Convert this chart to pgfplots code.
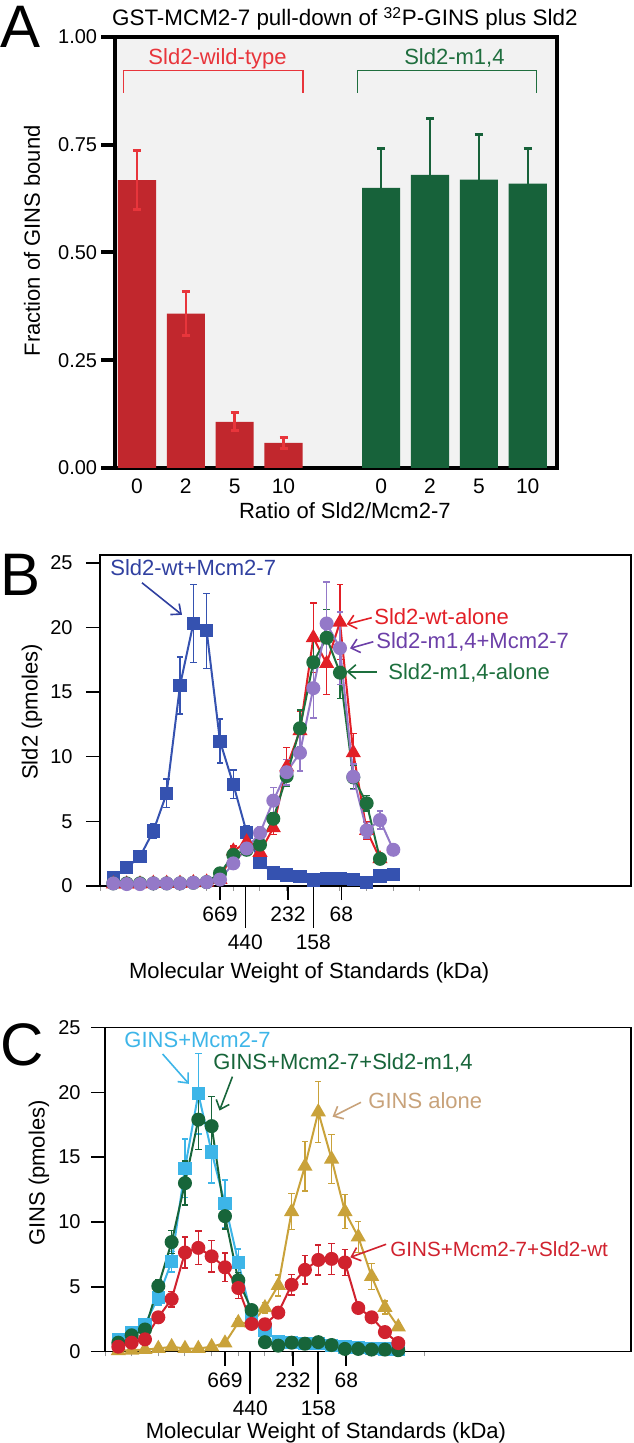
\documentclass[border=0pt]{standalone}
\usepackage{pgfplots}
\pgfplotsset{compat=1.18}
\usepackage{fontspec}
\setmainfont{Liberation Sans}
\usetikzlibrary{arrows.meta}
\newcommand{\fs}[1]{\fontsize{#1}{#1}\selectfont}
\definecolor{Ared}{HTML}{C1272D}
\definecolor{Aredb}{HTML}{E8353B}
\definecolor{Agreen}{HTML}{17623A}
\definecolor{Agreent}{HTML}{1F6E3E}
\definecolor{Bblue}{HTML}{3552B0}
\definecolor{Bbluet}{HTML}{3040A0}
\definecolor{Bred}{HTML}{E21F26}
\definecolor{Bpurple}{HTML}{9479C8}
\definecolor{Bpurplet}{HTML}{6C3FA8}
\definecolor{Bgreen}{HTML}{1D6F3D}
\definecolor{Ccyan}{HTML}{3DB5E8}
\definecolor{Cgreen}{HTML}{17653A}
\definecolor{Cred}{HTML}{D0222E}
\definecolor{Cgold}{HTML}{C9A23A}
\definecolor{Cgoldt}{HTML}{C8A27A}
\pgfplotsset{
  errs/.style={error bars/.cd, y dir=both, y explicit,
    error bar style={line width=0.7pt, solid},
    error mark options={line width=0.7pt, mark size=1.6pt, rotate=90}},
  ser/.style={color=#1, line width=1pt, mark options={fill=#1, draw=#1, solid}},
}
\begin{document}
\begin{tikzpicture}
\useasboundingbox (0,0) rectangle (316.5pt,721.5pt);
\node[anchor=base west, inner sep=0pt, font=\fs{30}] at (0pt,697.5pt) {A};
\node[anchor=base west, inner sep=0pt, font=\fs{30}] at (0pt,423.5pt) {B};
\node[anchor=base west, inner sep=0pt, font=\fs{30}] at (0pt,188.5pt) {C};

% ---------------- Panel A ----------------
\begin{axis}[
  at={(57.5pt,487.5pt)}, anchor=south west, scale only axis,
  width=221pt, height=215.5pt,
  xmin=-0.45, xmax=8.6, ymin=0, ymax=1,
  axis background/.style={fill=black!5},
  axis line style={line width=2pt},
  clip=false,
  xtick={0,1,2,3,5,6,7,8}, xticklabels={0,2,5,10,0,2,5,10},
  x tick style={draw=none},
  ytick={0,0.25,0.5,0.75,1}, yticklabels={0.00,0.25,0.50,0.75,1.00},
  y tick style={line width=2pt, black},
  ytick pos=left,
  tick align=outside, major tick length=7pt,
  xticklabel style={font=\fs{10.5}, anchor=base, yshift=-6pt},
  yticklabel style={font=\fs{10}, anchor=east, inner sep=0pt, xshift=-1.75pt},
  xlabel={Ratio of Sld2/Mcm2-7},
  ylabel={Fraction of GINS bound},
  title={GST-MCM2-7 pull-down of \textsuperscript{32}P-GINS plus Sld2},
  every axis x label/.style={at={(axis description cs:0.52,0)}, anchor=base, yshift=-25.5pt, font=\fs{11}},
  every axis y label/.style={at={(axis description cs:0,0.527)}, xshift=-41.5pt, rotate=90, anchor=center, font=\fs{11}},
  every axis title/.style={at={(axis description cs:0.52,1)}, anchor=base, yshift=5.5pt, font=\fs{11.2}},
]
\addplot[ybar, bar width=0.78, bar shift=0pt, fill=Ared, draw=none,
  error bars/.cd, y dir=both, y explicit,
  error bar style={line width=1.2pt, Aredb},
  error mark options={line width=1.5pt, mark size=2pt, rotate=90, Aredb}]
  coordinates {(0,0.668) +- (0,0.069) (1,0.358) +- (0,0.051) (2,0.107) +- (0,0.021) (3,0.058) +- (0,0.012)};
\addplot[ybar, bar width=0.78, bar shift=0pt, fill=Agreen, draw=none,
  error bars/.cd, y dir=plus, y explicit,
  error bar style={line width=1.2pt, Agreen},
  error mark options={line width=1.5pt, mark size=2pt, rotate=90, Agreen}]
  coordinates {(5,0.650) +- (0,0.091) (6,0.680) +- (0,0.131) (7,0.669) +- (0,0.104) (8,0.660) +- (0,0.081)};
\draw[Aredb, line width=0.6pt] (-0.27,0.871) -- (-0.27,0.922) -- (3.4,0.922) -- (3.4,0.871);
\draw[Agreent, line width=0.6pt] (4.51,0.871) -- (4.51,0.922) -- (8.18,0.922) -- (8.18,0.871);
\node[anchor=base, inner sep=0pt, text=Aredb, font=\fs{11}] at (1.65,0.935) {Sld2-wild-type};
\node[anchor=base, inner sep=0pt, text=Agreent, font=\fs{11}] at (6.5,0.935) {Sld2-m1,4};
\end{axis}

% ---------------- Panel B ----------------
\begin{axis}[
  at={(50pt,278.5pt)}, anchor=south west, scale only axis,
  width=265.5pt, height=165.5pt,
  xmin=0, xmax=39.83, ymin=0, ymax=25.6,
  axis line style={line width=0.8pt},
  clip=false,
  ytick={0,5,10,15,20,25}, yticklabels={0,5,10,15,20,25},
  ytick pos=left, xtick pos=bottom,
  tick align=outside, major tick length=7pt, minor tick length=2.5pt,
  major tick style={line width=0.8pt, black},
  minor tick style={line width=0.5pt, black!40},
  xtick={9,14.1,18.1}, xticklabels={669,232,68},
  extra x ticks={10.9,16}, extra x tick labels={440,158},
  extra x tick style={major tick length=21pt},
  minor xtick={0,2,...,24},
  xticklabel style={font=\fs{10.5}, anchor=base, yshift=-11pt},
  yticklabel style={font=\fs{10}, anchor=east, inner sep=0pt, xshift=-6.5pt},
  xlabel={Molecular Weight of Standards (kDa)},
  ylabel={Sld2 (pmoles)},
  every axis x label/.style={at={(axis description cs:0.394,0)}, anchor=base, yshift=-46.5pt, font=\fs{11}},
  every axis y label/.style={at={(axis description cs:0,0.526)}, xshift=-34pt, rotate=90, anchor=center, font=\fs{11}},
]
\addplot[ser=Bblue, mark=square*, mark size=2.8pt, errs] coordinates {
(1,0.67) +- (0,0.1) (2,1.42) +- (0,0.15) (3,2.27) +- (0,0.2) (4,4.25) +- (0,0.6)
(5,7.16) +- (0,1.1) (6,15.5) +- (0,2.2) (7,20.3) +- (0,3.0) (8,19.74) +- (0,2.9)
(9,11.2) +- (0,1.7) (10,7.86) +- (0,1.1) (11,4.15) +- (0,0.5) (12,1.80) +- (0,0.3)
(13,1.0) +- (0,0.1) (14,0.85) +- (0,0.1) (15,0.72) +- (0,0.1) (16,0.46) +- (0,0.1)
(17,0.56) +- (0,0.1) (18,0.56) +- (0,0.1) (19,0.5) +- (0,0.1) (20,0.25) +- (0,0.1)
(21,0.77) +- (0,0.1) (22,0.9) +- (0,0.1)};
\addplot[ser=Bred, mark=triangle*, mark size=3.4pt, errs] coordinates {
(1,0.15) +- (0,0) (2,0.15) +- (0,0) (3,0.15) +- (0,0) (4,0.2) +- (0,0)
(5,0.2) +- (0,0) (6,0.2) +- (0,0) (7,0.25) +- (0,0) (8,0.3) +- (0,0)
(9,0.5) +- (0,0.2) (10,2.7) +- (0,0.4) (11,3.4) +- (0,0.3) (12,2.6) +- (0,0.4)
(13,4.5) +- (0,0.5) (14,9.2) +- (0,1.5) (15,12.0) +- (0,1.5) (16,19.2) +- (0,2.7)
(17,17.2) +- (0,2.4) (18,20.4) +- (0,2.9) (19,10.3) +- (0,1.5) (20,4.3) +- (0,0.7)
(21,2.1) +- (0,0.3)};
\addplot[ser=Bgreen, mark=*, mark size=3pt, errs] coordinates {
(1,0.2) +- (0,0) (2,0.2) +- (0,0) (3,0.2) +- (0,0) (4,0.2) +- (0,0)
(5,0.2) +- (0,0) (6,0.2) +- (0,0) (7,0.25) +- (0,0) (8,0.3) +- (0,0)
(9,0.98) +- (0,0.2) (10,2.4) +- (0,0.3) (11,2.8) +- (0,0.3) (12,3.2) +- (0,0.3)
(13,5.2) +- (0,0.5) (14,8.5) +- (0,0.8) (15,12.2) +- (0,1.4) (16,17.3) +- (0,1.8)
(17,19.2) +- (0,2.2) (18,16.5) +- (0,2.0) (19,8.4) +- (0,0.9) (20,6.4) +- (0,0.6)
(21,2.1) +- (0,0.3)};
\addplot[ser=Bpurple, mark=*, mark size=3pt, errs] coordinates {
(1,0.2) +- (0,0) (2,0.15) +- (0,0) (3,0.15) +- (0,0) (4,0.2) +- (0,0)
(5,0.2) +- (0,0) (6,0.2) +- (0,0) (7,0.25) +- (0,0) (8,0.3) +- (0,0)
(9,0.5) +- (0,0.1) (10,1.75) +- (0,0.3) (11,2.9) +- (0,0.3) (12,4.1) +- (0,0.5)
(13,6.6) +- (0,1.0) (14,8.8) +- (0,1.0) (15,10.3) +- (0,1.4) (16,15.3) +- (0,2.3)
(17,20.3) +- (0,3.2) (18,18.4) +- (0,2.8) (19,8.45) +- (0,1.0) (20,4.3) +- (0,0.6)
(21,5.1) +- (0,0.7) (22,2.8) +- (0,0.3)};
\node[anchor=base west, inner sep=0pt, text=Bbluet, font=\fs{11}] at (0.75,24.05) {Sld2-wt+Mcm2-7};
\draw[Bbluet, line width=0.8pt, -{Straight Barb[length=4pt,width=7pt]}] (3.15,23.45) -- (6.15,20.97);
\node[anchor=base west, inner sep=0pt, text=Bred, font=\fs{11}] at (20.55,20.26) {Sld2-wt-alone};
\draw[Bred, line width=0.8pt, -{Straight Barb[length=4pt,width=7pt]}] (20.38,20.75) -- (18.5,20.24);
\node[anchor=base west, inner sep=0pt, text=Bpurplet, font=\fs{11}] at (20.7,18.33) {Sld2-m1,4+Mcm2-7};
\draw[Bpurplet, line width=0.8pt, -{Straight Barb[length=4pt,width=7pt]}] (20.5,18.89) -- (18.75,18.38);
\node[anchor=base west, inner sep=0pt, text=Bgreen, font=\fs{11}] at (21.6,16.0) {Sld2-m1,4-alone};
\draw[Bgreen, line width=0.8pt, -{Straight Barb[length=4pt,width=7pt]}] (20.75,16.57) -- (18.5,16.57);
\end{axis}

% ---------------- Panel C ----------------
\begin{axis}[
  at={(52.5pt,45.75pt)}, anchor=south west, scale only axis,
  width=263pt, height=161.9pt,
  xmin=0, xmax=39.46, ymin=0, ymax=25,
  axis line style={line width=0.8pt},
  clip=false,
  ytick={0,5,10,15,20,25}, yticklabels={0,5,10,15,20,25},
  ytick pos=left, xtick pos=bottom,
  tick align=outside, major tick length=7pt, minor tick length=2.5pt,
  major tick style={line width=0.8pt, black},
  minor tick style={line width=0.5pt, black!40},
  xtick={9,14.1,18.1}, xticklabels={669,232,68},
  extra x ticks={10.9,16}, extra x tick labels={440,158},
  extra x tick style={major tick length=21pt},
  minor xtick={0,2,...,24},
  xticklabel style={font=\fs{10.5}, anchor=base, yshift=-10.75pt},
  yticklabel style={font=\fs{10}, anchor=east, inner sep=0pt, xshift=-5pt},
  xlabel={Molecular Weight of Standards (kDa)},
  ylabel={GINS (pmoles)},
  every axis x label/.style={at={(axis description cs:0.42,0)}, anchor=base, yshift=-43.25pt, font=\fs{11}},
  every axis y label/.style={at={(axis description cs:0,0.551)}, xshift=-33pt, rotate=90, anchor=center, font=\fs{11}},
]
\addplot[ser=Cgold, mark=triangle*, mark size=3.4pt, errs] coordinates {
(1,0.06) +- (0,0) (2,0.1) +- (0,0) (3,0.15) +- (0,0) (4,0.23) +- (0,0)
(5,0.37) +- (0,0) (6,0.23) +- (0,0) (7,0.23) +- (0,0) (8,0.37) +- (0,0)
(9,0.65) +- (0,0.1) (10,2.23) +- (0,0.3) (11,2.2) +- (0,0.3) (12,3.38) +- (0,0.4)
(13,5.1) +- (0,0.8) (14,10.8) +- (0,1.4) (15,14.3) +- (0,1.9) (16,18.5) +- (0,2.35)
(17,14.85) +- (0,1.9) (18,10.8) +- (0,1.3) (19,8.85) +- (0,1.2) (20,5.8) +- (0,1.0)
(21,3.4) +- (0,0.5) (22,1.9) +- (0,0.3)};
\addplot[ser=Ccyan, mark=square*, mark size=2.8pt, errs] coordinates {
(1,0.94) +- (0,0.1) (2,1.45) +- (0,0.15) (3,2.1) +- (0,0.2) (4,4.19) +- (0,0.6)
(5,6.94) +- (0,0.8) (6,14.15) +- (0,2.25) (7,19.9) +- (0,3.1) (8,15.4) +- (0,2.4)
(9,11.4) +- (0,1.85) (10,6.9) +- (0,1.0) (11,2.7) +- (0,0.3) (12,1.6) +- (0,0.2)
(13,0.8) +- (0,0) (14,0.7) +- (0,0) (15,0.6) +- (0,0) (16,0.6) +- (0,0)
(17,0.45) +- (0,0) (18,0.35) +- (0,0) (19,0.3) +- (0,0) (20,0.25) +- (0,0)
(21,0.2) +- (0,0) (22,0.15) +- (0,0)};
\addplot[ser=Cgreen, mark=*, mark size=3pt, errs] coordinates {
(1,0.68) +- (0,0) (2,1.25) +- (0,0.1) (3,1.7) +- (0,0.2) (4,5.05) +- (0,0.5)
(5,8.45) +- (0,0.9) (6,13.0) +- (0,1.7) (7,17.9) +- (0,2.3) (8,17.4) +- (0,2.3)
(9,10.45) +- (0,1.0) (10,5.5) +- (0,0.6) (11,3.2) +- (0,0.3) (12,0.72) +- (0,0)
(13,0.45) +- (0,0) (14,0.68) +- (0,0) (15,0.6) +- (0,0) (16,0.72) +- (0,0)
(17,0.5) +- (0,0) (18,0.2) +- (0,0) (19,0.2) +- (0,0) (20,0.15) +- (0,0)
(21,0.15) +- (0,0) (22,0.1) +- (0,0)};
\addplot[ser=Cred, mark=*, mark size=3pt, errs] coordinates {
(1,0.37) +- (0,0) (2,0.68) +- (0,0.1) (3,0.94) +- (0,0.1) (4,2.64) +- (0,0.3)
(5,4.05) +- (0,0.6) (6,7.64) +- (0,1.2) (7,8.0) +- (0,1.3) (8,7.35) +- (0,1.2)
(9,6.5) +- (0,1.1) (10,4.9) +- (0,0.8) (11,2.13) +- (0,0.3) (12,2.1) +- (0,0.3)
(13,3.0) +- (0,0.4) (14,5.15) +- (0,0.8) (15,6.3) +- (0,1.1) (16,7.07) +- (0,1.15)
(17,7.15) +- (0,1.2) (18,6.87) +- (0,1.0) (19,3.36) +- (0,0.4) (20,2.64) +- (0,0.3)
(21,1.5) +- (0,0.2) (22,0.65) +- (0,0.1)};
\node[anchor=base west, inner sep=0pt, text=Ccyan, font=\fs{11}] at (1.43,23.5) {GINS+Mcm2-7};
\draw[Ccyan, line width=0.8pt, -{Straight Barb[length=4pt,width=7pt]}] (4.32,22.97) -- (6.3,20.66);
\node[anchor=base west, inner sep=0pt, text=Cgreen, font=\fs{11}] at (8.1,21.74) {GINS+Mcm2-7+Sld2-m1,4};
\draw[Cgreen, line width=0.8pt, -{Straight Barb[length=4pt,width=7pt]}] (9.56,21.22) -- (8.59,18.6);
\node[anchor=base west, inner sep=0pt, text=Cgoldt, font=\fs{11}] at (19.73,18.73) {GINS alone};
\draw[Cgoldt, line width=0.8pt, -{Straight Barb[length=4pt,width=7pt]}] (19.2,19.24) -- (17.07,18.13);
\node[anchor=base west, inner sep=0pt, text=Cred, font=\fs{10.3}] at (21.38,7.3) {GINS+Mcm2-7+Sld2-wt};
\draw[Cred, line width=0.8pt, -{Straight Barb[length=4pt,width=7pt]}] (21.09,8.28) -- (18.4,7.27);
\end{axis}
\end{tikzpicture}
\end{document}
